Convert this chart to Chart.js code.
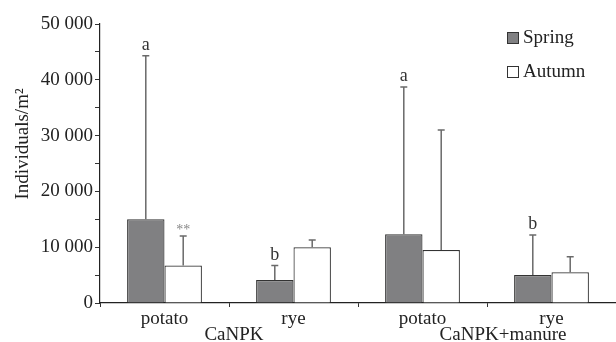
<!DOCTYPE html>
<html><head><meta charset="utf-8">
<script src="https://cdn.jsdelivr.net/npm/chart.js@4.4.1/dist/chart.umd.min.js"></script>
<style>html,body{margin:0;padding:0;background:#fff}#wrap{width:616px;height:342px}</style>
</head><body><div id="wrap"><canvas id="c" width="616" height="342"></canvas></div>
<script>
const categories = ['potato', 'rye', 'potato', 'rye'];
const groups = ['CaNPK', 'CaNPK+manure'];
const springValues = [15000, 4100, 12300, 5000];
const springErrors = [44300, 6700, 38700, 12200];
const autumnValues = [6700, 10000, 9500, 5500];
const autumnErrors = [12000, 11300, 31000, 8300];
const springMarks = ['a', 'b', 'a', 'b'];
const autumnMarks = ['**', '', '', ''];
const seriesNames = ['Spring', 'Autumn'];
const yTitle = 'Individuals/m²';

const FONT = '"Liberation Serif", "Times New Roman", serif';
const fmt = v => String(v).replace(/\B(?=(\d{3})+(?!\d))/g, ' ');

const extras = {
  id: 'extras',
  afterDatasetsDraw(chart) {
    const ctx = chart.ctx;
    const y = chart.scales.y;
    const errs = [springErrors, autumnErrors];
    const marks = [springMarks, autumnMarks];
    ctx.save();
    for (let d = 0; d < 2; d++) {
      const meta = chart.getDatasetMeta(d);
      meta.data.forEach((bar, i) => {
        const x = bar.x;
        const top = bar.y;
        const ey = y.getPixelForValue(errs[d][i]);
        ctx.strokeStyle = '#6a6a6a';
        ctx.lineWidth = 1.5;
        ctx.beginPath();
        ctx.moveTo(x, top); ctx.lineTo(x, ey);
        ctx.moveTo(x - 3.5, ey); ctx.lineTo(x + 3.5, ey);
        ctx.stroke();
        const m = marks[d][i];
        if (m) {
          ctx.fillStyle = m === '**' ? '#888' : '#333';
          ctx.font = (m === '**' ? '14px ' : '18px ') + FONT;
          ctx.textAlign = 'center';
          ctx.textBaseline = 'alphabetic';
          ctx.fillText(m, x, ey - (m === '**' ? 2 : 6));
        }
      });
    }
    // group labels
    const xs = chart.scales.x;
    ctx.fillStyle = '#222';
    ctx.font = '19px ' + FONT;
    ctx.textAlign = 'center';
    ctx.textBaseline = 'alphabetic';
    const g0 = (xs.getPixelForValue(0) + xs.getPixelForValue(1)) / 2 + 5;
    const g1 = (xs.getPixelForValue(2) + xs.getPixelForValue(3)) / 2 + 16;
    ctx.fillText(groups[0], g0, 340);
    ctx.fillText(groups[1], g1, 340);
    // y title
    ctx.save();
    ctx.translate(28, 144);
    ctx.rotate(-Math.PI / 2);
    ctx.textAlign = 'center';
    ctx.textBaseline = 'alphabetic';
    ctx.font = '19px ' + FONT;
    ctx.fillText(yTitle, 0, 0);
    ctx.restore();
    // legend
    const ds = chart.data.datasets;
    const lx = 507, ly = [38, 72];
    for (let d = 0; d < 2; d++) {
      ctx.fillStyle = ds[d].backgroundColor;
      ctx.fillRect(lx, ly[d] - 6, 12, 12);
      ctx.strokeStyle = '#333';
      ctx.lineWidth = 1;
      ctx.strokeRect(lx + 0.5, ly[d] - 5.5, 11, 11);
      ctx.fillStyle = '#222';
      ctx.textAlign = 'left';
      ctx.textBaseline = 'middle';
      ctx.font = '19px ' + FONT;
      ctx.fillText(seriesNames[d], lx + 16, ly[d]);
    }
    ctx.restore();
  }
};

new Chart(document.getElementById('c'), {
  type: 'bar',
  data: {
    labels: categories,
    datasets: [
      { label: seriesNames[0], data: springValues, backgroundColor: '#808082', borderColor: '#333', borderWidth: 1.2, categoryPercentage: 0.58, barPercentage: 1.0 },
      { label: seriesNames[1], data: autumnValues, backgroundColor: '#ffffff', borderColor: '#333', borderWidth: 1.2, categoryPercentage: 0.58, barPercentage: 1.0 }
    ]
  },
  options: {
    responsive: false,
    animation: false,
    layout: { padding: { top: 24, right: 0, left: 0, bottom: 0 } },
    plugins: { legend: { display: false }, tooltip: { enabled: false } },
    scales: {
      x: {
        offset: true,
        grid: { offset: true, drawOnChartArea: false, drawTicks: true, tickLength: 4, color: '#333', lineWidth: 1 },
        border: { color: '#222', width: 1.2 },
        ticks: { color: '#222', font: { family: FONT, size: 19 }, padding: 1, maxRotation: 0 },
        afterFit(s) { s.height = 39; }
      },
      y: {
        min: 0, max: 50000,
        grid: { drawOnChartArea: false, drawTicks: true, tickLength: 5, color: '#333', lineWidth: 1 },
        border: { color: '#222', width: 1.2 },
        ticks: { stepSize: 5000, color: '#222', font: { family: FONT, size: 19 }, padding: 2,
          callback: v => (v % 10000 === 0 ? fmt(v) : '') },
        afterFit(s) { s.width = 100; }
      }
    }
  },
  plugins: [extras]
});
</script></body></html>
